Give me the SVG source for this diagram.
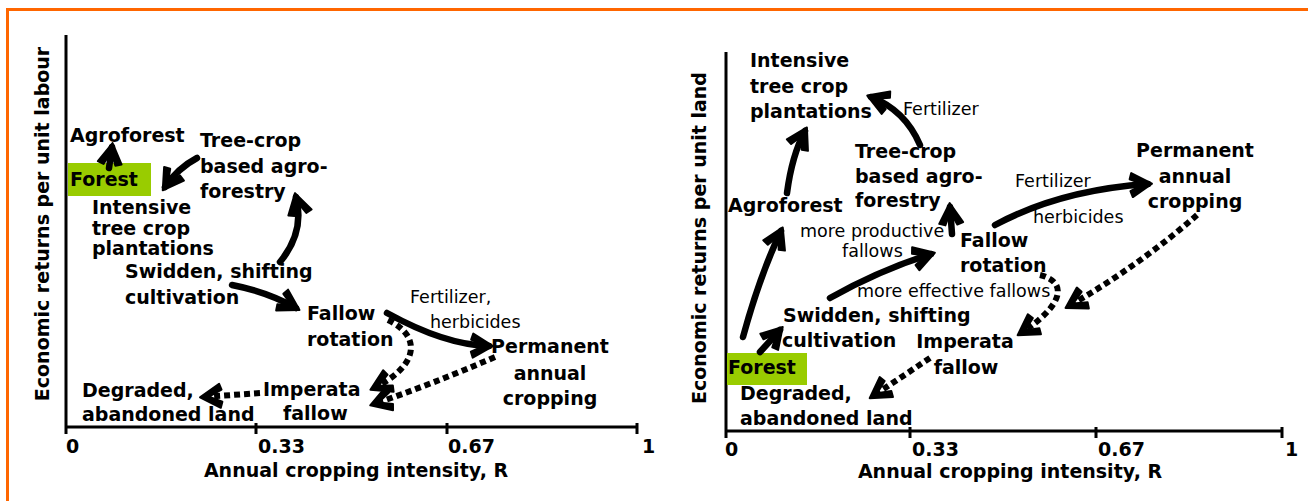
<svg xmlns="http://www.w3.org/2000/svg" width="1308" height="501" viewBox="0 0 1308 501">
<style>
.b{font-family:"DejaVu Sans","Liberation Sans",sans-serif;font-weight:bold;font-size:19px;fill:#000}
.r{font-family:"DejaVu Sans","Liberation Sans",sans-serif;font-size:17.5px;fill:#000}
.m{text-anchor:middle}
.ax{stroke:#000;stroke-width:3;fill:none}
.solid{stroke:#000;stroke-width:6.5;fill:none;stroke-linecap:round;marker-end:url(#ah)}
.dot{stroke:#000;stroke-width:6;fill:none;stroke-dasharray:6 4;marker-end:url(#ah)}
.hl{fill:#99CC00}
</style>
<defs>
<marker id="ah" markerUnits="userSpaceOnUse" viewBox="-22 -14 28 28" markerWidth="28" markerHeight="28" refX="0" refY="0" orient="auto" overflow="visible">
<path d="M4,0 L-16,-12 L-18,-6 L-5,0 L-18,6 L-16,12 Z" fill="#000" stroke="#000" stroke-width="2" stroke-linejoin="round"/>
</marker>
</defs>
<rect x="7.5" y="9.5" width="1400" height="600" fill="#fff" stroke="#FF6600" stroke-width="3"/>

<g id="left-axes">
<path class="ax" d="M66,35 V428 M66,427 H638 M66,423 V434 M256,423 V434 M447,423 V434 M637,423 V434"/>
<text class="b" x="66" y="453">0</text>
<text class="b" x="258" y="453">0.33</text>
<text class="b" x="448" y="453">0.67</text>
<text class="b" x="642" y="453">1</text>
<text class="b m" x="356" y="477">Annual cropping intensity, R</text>
<text class="b m" transform="translate(49,224) rotate(-90)">Economic returns per unit labour</text>
</g>

<g id="right-axes">
<path class="ax" d="M726,52 V432 M726,431 H1283 M726,427 V438 M910,427 V438 M1096,427 V438 M1282,427 V438"/>
<text class="b" x="725" y="456">0</text>
<text class="b" x="912" y="456">0.33</text>
<text class="b" x="1098" y="456">0.67</text>
<text class="b" x="1285" y="456">1</text>
<text class="b m" x="1010" y="478">Annual cropping intensity, R</text>
<text class="b m" transform="translate(706,238) rotate(-90)">Economic returns per unit land</text>
</g>

<g id="L-agroforest"><text class="b" x="70" y="142">Agroforest</text></g>
<g id="L-forest"><rect class="hl" x="68" y="163" width="83" height="33"/><text class="b" x="70" y="186">Forest</text></g>
<g id="L-treecrop"><text class="b" x="200" y="147">Tree-crop</text><text class="b" x="200" y="173">based agro-</text><text class="b" x="200" y="198">forestry</text></g>
<g id="L-intensive"><text class="b" x="92" y="214">Intensive</text><text class="b" x="92" y="235">tree crop</text><text class="b" x="92" y="255">plantations</text></g>
<g id="L-swidden"><text class="b" x="125" y="278">Swidden, shifting</text><text class="b" x="125" y="304">cultivation</text></g>
<g id="L-fallow"><text class="b" x="307" y="320">Fallow</text><text class="b" x="307" y="346">rotation</text></g>
<g id="L-permanent"><text class="b m" x="550" y="353">Permanent</text><text class="b m" x="550" y="380">annual</text><text class="b m" x="550" y="405">cropping</text></g>
<g id="L-imperata"><text class="b" x="263" y="396">Imperata</text><text class="b" x="283" y="420">fallow</text></g>
<g id="L-degraded"><text class="b" x="82" y="397">Degraded,</text><text class="b" x="82" y="421">abandoned land</text></g>

<g id="R-intensive"><text class="b" x="750" y="67">Intensive</text><text class="b" x="750" y="93">tree crop</text><text class="b" x="750" y="118">plantations</text></g>
<g id="R-treecrop"><text class="b" x="855" y="158">Tree-crop</text><text class="b" x="855" y="183">based agro-</text><text class="b" x="855" y="207">forestry</text></g>
<g id="R-agroforest"><text class="b" x="728" y="212">Agroforest</text></g>
<g id="R-fallow"><text class="b" x="960" y="247">Fallow</text><text class="b" x="960" y="272">rotation</text></g>
<g id="R-permanent"><text class="b m" x="1195" y="157">Permanent</text><text class="b m" x="1195" y="183">annual</text><text class="b m" x="1195" y="208">cropping</text></g>
<g id="R-swidden"><text class="b" x="783" y="322">Swidden, shifting</text><text class="b" x="782" y="347">cultivation</text></g>
<g id="R-forest"><rect class="hl" x="727" y="353" width="80" height="32"/><text class="b" x="728" y="374">Forest</text></g>
<g id="R-degraded"><text class="b" x="740" y="400">Degraded,</text><text class="b" x="740" y="425">abandoned land</text></g>
<g id="R-imperata"><text class="b m" x="965" y="348">Imperata</text><text class="b m" x="966" y="374">fallow</text></g>

<g id="connectors">
<path class="solid" d="M109,168 L112,147"/>
<path class="solid" d="M197,158 Q178,168 165,187"/>
<path class="solid" d="M280,262 Q305,232 296,197"/>
<path class="solid" d="M232,285 Q268,292 296,308"/>
<path class="solid" d="M387,313 Q445,345 489,346"/>
<path class="dot" d="M388,320 C425,338 415,368 374,388"/>
<path class="dot" d="M495,357 Q430,385 374,404"/>
<path class="dot" d="M260,393 L204,397"/>
<text class="r" x="410" y="303">Fertilizer,</text>
<text class="r" x="430" y="328">herbicides</text>

<path class="solid" d="M760,352 L780,330"/>
<path class="solid" d="M743,337 Q760,275 781,231"/>
<path class="solid" d="M787,193 Q792,155 805,131"/>
<path class="solid" d="M920,145 Q905,110 871,97"/>
<path class="solid" d="M952,234 L950,207"/>
<path class="solid" d="M830,298 Q880,270 931,254"/>
<path class="solid" d="M995,225 Q1060,190 1148,184"/>
<path class="dot" d="M1040,275 C1068,282 1064,305 1021,333"/>
<path class="dot" d="M1197,215 Q1140,265 1069,306"/>
<path class="dot" d="M930,358 L873,396"/>
<text class="r" x="903" y="115">Fertilizer</text>
<text class="r" x="800" y="237">more productive</text>
<text class="r" x="842" y="257">fallows</text>
<text class="r" x="1015" y="187">Fertilizer</text>
<text class="r" x="1033" y="223">herbicides</text>
<text class="r" x="857" y="297">more effective fallows</text>
</g>
</svg>
